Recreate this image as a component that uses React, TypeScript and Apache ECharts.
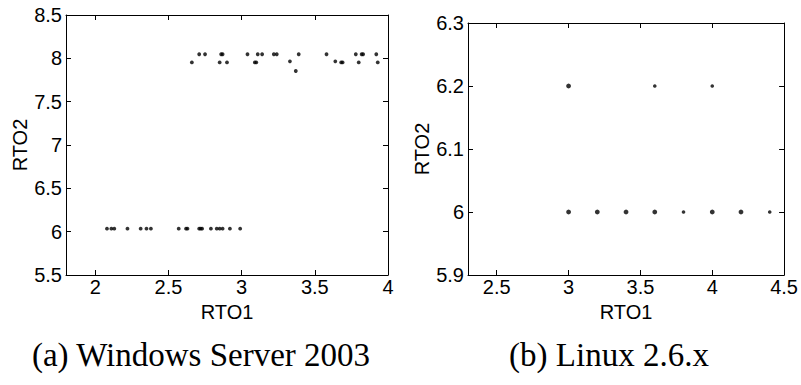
import React, { useEffect, useRef } from "react";
import * as echarts from "echarts";

// Windows Server 2003 samples (RTO1, RTO2)
const winX = [
  2.08, 2.11, 2.13, 2.22, 2.31, 2.35, 2.38, 2.57, 2.62, 2.63, 2.71, 2.72, 2.73, 2.79, 2.83, 2.85, 2.87, 2.92, 2.99,
  2.71, 2.75, 2.86, 2.87, 3.04, 3.11, 3.14, 3.22, 3.24, 3.39, 3.58, 3.78, 3.82, 3.83, 3.92,
  2.66, 2.85, 2.9, 3.09, 3.1, 3.33, 3.64, 3.68, 3.69, 3.8, 3.93,
  3.37,
];
const winY = [
  6.035, 6.035, 6.035, 6.035, 6.035, 6.035, 6.035, 6.035, 6.035, 6.035, 6.035, 6.035, 6.035, 6.035, 6.035, 6.035, 6.035, 6.035, 6.035,
  8.047, 8.047, 8.047, 8.047, 8.047, 8.047, 8.047, 8.047, 8.047, 8.047, 8.047, 8.047, 8.047, 8.047, 8.047,
  7.953, 7.953, 7.953, 7.953, 7.953, 7.965, 7.965, 7.953, 7.953, 7.953, 7.953,
  7.854,
];

// Linux 2.6.x samples (RTO1, RTO2, multiplicity)
const linX = [3, 3.6, 4, 3, 3.2, 3.4, 3.6, 3.8, 4, 4.2, 4.4];
const linY = [6.2, 6.2, 6.2, 6, 6, 6, 6, 6, 6, 6, 6];
const linCount = [2, 1, 1, 2, 2, 2, 2, 1, 2, 2, 1];

const winXTicks = [2, 2.5, 3, 3.5, 4];
const linXTicks = [2.5, 3, 3.5, 4, 4.5];

const captions = ["(a) Windows Server 2003", "(b) Linux 2.6.x"];
const axisTitles = { x: "RTO1", y: "RTO2" };

const SANS = "'Liberation Sans', Arial, Helvetica, sans-serif";
const SERIF = "'Liberation Serif', 'Times New Roman', serif";

export default function App() {
  const ref = useRef<HTMLDivElement>(null);
  useEffect(() => {
    if (!ref.current) return;
    const chart = echarts.init(ref.current, null, { renderer: "svg" });
    const line = { show: true, lineStyle: { color: "#000", width: 1 } };
    const label = { color: "#000", fontSize: 20, fontFamily: SANS };
    const mkX = (gi: number, min: number, max: number, ticks: number[]) => [
      {
        type: "value", gridIndex: gi, position: "bottom", min, max,
        axisLine: { ...line, onZero: false },
        axisTick: { show: true, inside: true, length: 5, lineStyle: { color: "#000" }, customValues: ticks },
        axisLabel: { ...label, margin: 2, customValues: ticks },
        splitLine: { show: false },
        name: axisTitles.x, nameLocation: "middle", nameGap: 20,
        nameTextStyle: { color: "#000", fontSize: 20, fontFamily: SANS },
      },
      {
        type: "value", gridIndex: gi, position: "top", min, max,
        axisLine: { ...line, onZero: false },
        axisTick: { show: true, inside: true, length: 5, lineStyle: { color: "#000" }, customValues: ticks },
        axisLabel: { show: false },
        splitLine: { show: false },
      },
    ];
    const mkY = (gi: number, min: number, max: number, interval: number, gap: number) => [
      {
        type: "value", gridIndex: gi, position: "left", min, max, interval,
        axisLine: { ...line, onZero: false },
        axisTick: { show: true, inside: true, length: 5, lineStyle: { color: "#000" } },
        axisLabel: { ...label, margin: 4 },
        splitLine: { show: false },
        name: axisTitles.y, nameLocation: "middle", nameGap: gap,
        nameTextStyle: { color: "#000", fontSize: 20, fontFamily: SANS },
      },
      {
        type: "value", gridIndex: gi, position: "right", min, max, interval,
        axisLine: { ...line, onZero: false },
        axisTick: { show: true, inside: true, length: 5, lineStyle: { color: "#000" } },
        axisLabel: { show: false },
        splitLine: { show: false },
      },
    ];
    chart.setOption({
      animation: false,
      backgroundColor: "#fff",
      grid: [
        { left: 66, top: 15, width: 322, height: 260 },
        { left: 468, top: 23, width: 318, height: 252 },
      ],
      xAxis: [...mkX(0, 1.8, 4, winXTicks), ...mkX(1, 2.3, 4.5, linXTicks)],
      yAxis: [...mkY(0, 5.5, 8.5, 0.5, 30), ...mkY(1, 5.9, 6.3, 0.1, 33)],
      series: [
        {
          type: "scatter", xAxisIndex: 0, yAxisIndex: 0,
          data: winX.map((x, i) => [x, winY[i]]),
          symbolSize: 3.8, itemStyle: { color: "#000" },
        },
        {
          type: "scatter", xAxisIndex: 2, yAxisIndex: 2,
          data: linX.map((x, i) => [x, linY[i], linCount[i]]),
          symbolSize: (v: number[]) => (v[2] > 1 ? 4.8 : 3.6),
          itemStyle: { color: "#000" },
        },
      ],
      graphic: [
        {
          type: "text", x: 201, y: 355,
          style: { text: captions[0], font: `33px ${SERIF}`, fill: "#000", textAlign: "center", textVerticalAlign: "middle" },
        },
        {
          type: "text", x: 609, y: 355,
          style: { text: captions[1], font: `33px ${SERIF}`, fill: "#000", textAlign: "center", textVerticalAlign: "middle" },
        },
      ],
    });
    return () => chart.dispose();
  }, []);
  return (
    <div
      ref={ref}
      style={{ position: "fixed", left: 0, top: 0, width: 801, height: 385, background: "#fff" }}
    />
  );
}
